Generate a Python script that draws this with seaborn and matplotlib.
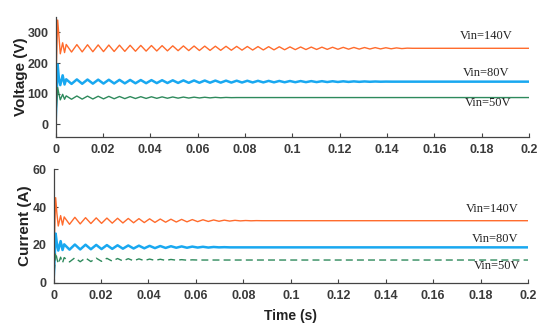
import numpy as np
import pandas as pd
import seaborn as sns
import matplotlib.pyplot as plt

# ---------------- data ----------------
labels = ["Vin=140V", "Vin=80V", "Vin=50V"]
t_end = 0.2
osc_t0 = 0.0045      # first oscillation extremum
osc_half = 0.00225   # half period of the ringing

# start-up transient (time, value)
t_start = [0.0, 0.0003, 0.0009, 0.0014, 0.002, 0.003, 0.0038]
v140_start = [0, 180, 340, 290, 230, 266, 234]
v80_start = [0, 60, 195, 150, 128, 160, 130]
v50_start = [0, 50, 120, 100, 80, 98, 82]
i140_start = [0, 20, 45, 37, 30, 35.5, 30.5]
i80_start = [0, 8, 26, 21, 17, 22, 17.3]
i50_start = [0, 6, 16, 13, 10, 13.5, 10.5]

# ringing extrema (alternating peak / trough)
v140_osc = [260.5, 235.8, 260, 236.3, 259.5, 236.8, 259, 237.2, 258.6, 237.6,
            258.2, 238, 257.8, 238.4, 257.4, 238.8, 257, 239.2, 256.6, 239.6,
            256, 240.2, 255.7, 240.5, 255.4, 240.8, 255.1, 241.1, 254.8, 241.4,
            254.5, 241.7, 254.2, 242, 253.9, 242.3, 253.6, 242.6, 253.3, 242.9,
            253, 243.2, 252.6, 243.6, 252.3, 243.9, 252, 244.2, 251.7, 244.5,
            251.4, 244.8, 251.1, 245.1, 250.8, 245.4, 250.5, 245.7, 250.2, 246,
            249.8, 246.4, 249.3, 247, 248.5, 248]
v80_osc = [147, 132, 146.6, 132.4, 146.2, 132.8, 145.8, 133.1, 145.5, 133.4,
           145.2, 133.7, 144.9, 134, 144.6, 134.3, 144.3, 134.6, 144, 134.9,
           143.7, 135.2, 143.4, 135.5, 143.2, 135.7, 143, 135.9, 142.8, 136.1,
           142.6, 136.3, 142.4, 136.5, 142.2, 136.7, 142, 136.9, 141.8, 137.1,
           141.6, 137.3, 141.4, 137.5, 141.2, 137.7, 141, 137.9, 140.8, 138.1,
           140.6, 138.3, 140.4, 138.5, 140.2, 138.7, 140, 138.9, 139.8, 139.1,
           139.5, 139.3]
v50_osc = [93, 82, 92.6, 82.4, 92.2, 82.8, 91.8, 83.2, 91.4, 83.6,
           91, 84, 90.6, 84.4, 90.3, 84.7, 90, 85, 89.7, 85.3,
           89.4, 85.6, 89.1, 85.9, 88.8, 86.2, 88.5, 86.5, 88.2, 86.8,
           87.9, 87.2, 87.5]
i140_osc = [34.8, 30.9, 34.6, 31.1, 34.4, 31.3, 34.3, 31.4, 34.2, 31.5,
            34.1, 31.6, 34.0, 31.7, 33.9, 31.8, 33.8, 31.9, 33.7, 32.0,
            33.6, 32.1, 33.5, 32.2, 33.4, 32.3, 33.3, 32.4, 33.2, 32.5,
            33.1, 32.6, 33.0, 32.7, 32.9, 32.75, 32.85, 32.8, 32.8]
i80_osc = [20.3, 17.5, 20.2, 17.6, 20.1, 17.7, 20.0, 17.8, 19.9, 17.9, 19.8, 18.0,
           19.7, 18.1, 19.6, 18.2, 19.5, 18.3, 19.4, 18.4, 19.3, 18.5, 19.2, 18.5,
           19.1, 18.6, 19.0, 18.6, 18.9, 18.7, 18.8, 18.7, 18.7]
i50_osc = [13.3, 11.0, 13.2, 11.1, 13.1, 11.2, 13.0, 11.3, 12.9, 11.4, 12.8, 11.5,
           12.7, 11.6, 12.6, 11.7, 12.5, 11.8, 12.4, 11.8, 12.3, 11.9, 12.2, 11.9,
           12.1, 12.0, 12.0]

v_steady = [248, 139.3, 87.5]
i_steady = [32.8, 18.7, 12.0]

x_ticks = [0, 0.02, 0.04, 0.06, 0.08, 0.1, 0.12, 0.14, 0.16, 0.18, 0.2]
x_ticklabels = ["0", "0.02", "0.04", "0.06", "0.08", "0.1", "0.12", "0.14", "0.16", "0.18", "0.2"]
v_ticks = [0, 100, 200, 300]
i_ticks = [0, 20, 40, 60]

colors = ["#FF6B2C", "#19A8F0", "#2E8A5C"]


def build(start_t, start_v, osc, steady):
    osc_t = list(osc_t0 + osc_half * np.arange(len(osc)))
    return (list(start_t) + osc_t + [t_end],
            list(start_v) + list(osc) + [steady])


def frame(starts, oscs, steadies):
    rows = []
    for lab, sv, ov, st in zip(labels, starts, oscs, steadies):
        tt, vv = build(t_start, sv, ov, st)
        rows.append(pd.DataFrame({"t": tt, "y": vv, "series": lab}))
    return pd.concat(rows, ignore_index=True)


dv = frame([v140_start, v80_start, v50_start], [v140_osc, v80_osc, v50_osc], v_steady)
di = frame([i140_start, i80_start, i50_start], [i140_osc, i80_osc, i50_osc], i_steady)

# ---------------- figure ----------------
sns.set_theme(style="white")
plt.rcParams["font.family"] = ["Liberation Sans", "DejaVu Sans"]

fig = plt.figure(figsize=(5.5, 3.26), dpi=100)
ax1 = fig.add_axes([0.101, 0.5807, 0.861, 0.3672])
ax2 = fig.add_axes([0.0973, 0.1328, 0.8627, 0.3479])

widths = [1.0, 1.8, 1.0]

for ax, df in ((ax1, dv), (ax2, di)):
    for k, lab in enumerate(labels):
        sub = df[df.series == lab]
        sns.lineplot(data=sub, x="t", y="y", ax=ax, color=colors[k],
                     lw=widths[k], estimator=None, sort=False, legend=False)

# dashed green current line
ax2.lines[2].set_linestyle((0, (5, 3)))

txt_col = "#3a3a3a"
for ax, yt, ylim, ylab in ((ax1, v_ticks, (-40, 350), "Voltage (V)"),
                           (ax2, i_ticks, (0, 60), "Current (A)")):
    ax.set_xlim(0, 0.2)
    ax.set_ylim(*ylim)
    ax.set_xticks(x_ticks)
    ax.set_xticklabels(x_ticklabels)
    ax.set_yticks(yt)
    ax.set_yticklabels([str(v) for v in yt])
    ax.tick_params(direction="in", length=3, width=0.8, colors="#444444",
                   labelsize=9, labelcolor=txt_col, pad=5,
                   bottom=True, left=True)
    for lab in ax.get_xticklabels() + ax.get_yticklabels():
        lab.set_fontweight("bold")
    for s in ("top", "right"):
        ax.spines[s].set_visible(False)
    for s in ("left", "bottom"):
        ax.spines[s].set_color("#444444")
        ax.spines[s].set_linewidth(0.9)
    ax.set_ylabel(ylab, fontsize=11, fontweight="bold", color="#222222", labelpad=0)
    ax.set_xlabel("")
    ax.grid(False)

ax2.set_xlabel("Time (s)", fontsize=10, fontweight="bold", color="#222222", labelpad=5)

serif = ["Liberation Serif", "DejaVu Serif"]
ann_v = [(0.1818, 289), (0.182, 167.5), (0.1825, 70)]
ann_i = [(0.185, 39), (0.1863, 23.1), (0.187, 9.0)]
for ax, anns in ((ax1, ann_v), (ax2, ann_i)):
    for lab, (x, y) in zip(labels, anns):
        ax.text(x, y, lab, family=serif, fontsize=9, color="#222222",
                ha="center", va="center")

fig.savefig("out.png", dpi=100)
